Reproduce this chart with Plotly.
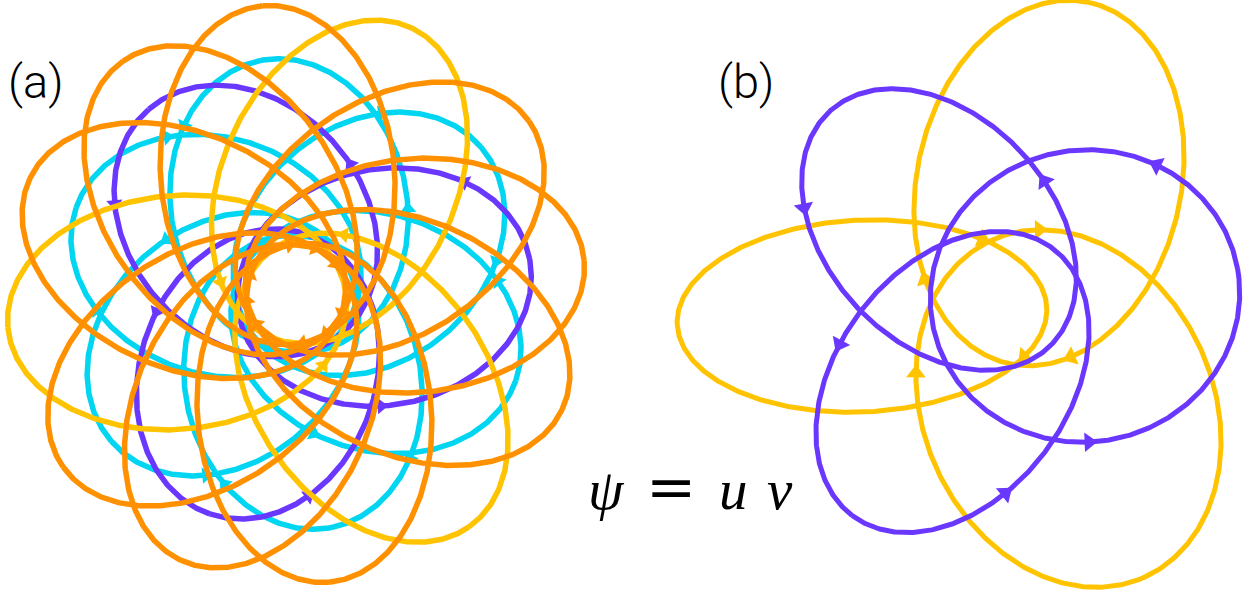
import numpy as np
import plotly.graph_objects as go

W, H = 1253, 594

# ---------------- panel (a): families of three loops, 120 deg apart ----------------
# every loop is an ellipse that encloses the common centre
A_COLOR = ["#FFC300", "#FF9100", "#FF9100", "#FF9100", "#6A37FF", "#00D5F2", "#00D5F2"]
A_AXIS = [65, 95, 125, 155, 11, 41, 101]        # direction of the far end of the first loop, deg
A_SEMI_MAJOR = [170, 170, 170, 170, 148, 148, 148]
A_SEMI_MINOR = [117, 117, 117, 117, 118, 118, 118]
A_SHIFT = [120, 120, 120, 120, 88, 88, 88]       # centre of ellipse, along the axis
A_SIDE = [8, 8, 8, 8, -10, -10, -10]             # centre of ellipse, across the axis
A_SENSE = [1, -1, -1, -1, 1, -1, 1]              # +1 counter-clockwise
A_ARROW_T = [[146], [185], [185], [185], [48, 260], [-55, 50], [48, 260]]
A_ORDER = [5, 6, 4, 0, 1, 2, 3]

# ---------------- panel (b): three yellow and three purple loops ----------------
B_COLOR = ["#FFC300"] * 3 + ["#6A37FF"] * 3
B_CX = [-123, 64, 83.5, -46, 100, -32.5]          # ellipse centre relative to the common centre
B_CY = [-17, 116, -109.5, 69.5, 3, -83]
B_SEMI_MAJOR = [185, 185, 185, 161, 155, 167]
B_SEMI_MINOR = [96, 132, 145, 113, 146, 116]
B_AXIS = [182.6, 77.2, 294.4, 132.9, 10, 233.1]
B_SENSE = [-1, -1, -1, 1, 1, 1]
B_ARROW_T = [[150, 228], [131, 207], [161, 239], [48, 257], [53, 262], [70, 283]]

CENTER_A = (296, 294)
CENTER_B = (985, 299)
WIDTH_A, WIDTH_B = 5.5, 5.0
HEAD_A, HEAD_B = 14, 17


def ellipse_point(t, cx, cy, a, b, axis):
    ux, uy = np.cos(np.radians(axis)), np.sin(np.radians(axis))
    x = cx + a * np.cos(t) * ux - b * np.sin(t) * uy
    y = cy + a * np.cos(t) * uy + b * np.sin(t) * ux
    return x, y


fig = go.Figure()


def draw_loop(cx, cy, a, b, axis, sense, arrow_t, color, width, head, xa, ya):
    t = np.linspace(0, 2 * np.pi, 721)
    x, y = ellipse_point(t, cx, cy, a, b, axis)
    fig.add_trace(go.Scatter(x=x, y=y, mode="lines", xaxis=xa, yaxis=ya,
                             line=dict(color=color, width=width), hoverinfo="skip"))
    ta = np.radians(np.array(arrow_t, dtype=float))
    x0, y0 = ellipse_point(ta, cx, cy, a, b, axis)
    x1, y1 = ellipse_point(ta + sense * 1e-3, cx, cy, a, b, axis)
    ang = np.degrees(np.arctan2(x1 - x0, y1 - y0))
    fig.add_trace(go.Scatter(x=x0, y=y0, mode="markers", xaxis=xa, yaxis=ya,
                             marker=dict(symbol="triangle-up", size=head, angle=ang,
                                         color=color, line=dict(width=0)),
                             hoverinfo="skip"))


for i in A_ORDER:
    for k in range(3):
        ax_deg = A_AXIS[i] + 120 * k
        ar = np.radians(ax_deg)
        cx = A_SHIFT[i] * np.cos(ar) - A_SIDE[i] * np.sin(ar)
        cy = A_SHIFT[i] * np.sin(ar) + A_SIDE[i] * np.cos(ar)
        draw_loop(cx, cy, A_SEMI_MAJOR[i], A_SEMI_MINOR[i], ax_deg, A_SENSE[i],
                  A_ARROW_T[i], A_COLOR[i], WIDTH_A, HEAD_A, "x", "y")

for i in range(len(B_COLOR)):
    draw_loop(B_CX[i], B_CY[i], B_SEMI_MAJOR[i], B_SEMI_MINOR[i], B_AXIS[i], B_SENSE[i],
              B_ARROW_T[i], B_COLOR[i], WIDTH_B, HEAD_B, "x2", "y2")

half = W / 2
axis_off = dict(visible=False, showgrid=False, zeroline=False, fixedrange=True)
fig.update_layout(
    width=W, height=H, margin=dict(l=0, r=0, t=0, b=0),
    paper_bgcolor="white", plot_bgcolor="white", showlegend=False,
    xaxis=dict(domain=[0, 0.5], range=[-CENTER_A[0], half - CENTER_A[0]], **axis_off),
    yaxis=dict(domain=[0, 1], range=[-(H - CENTER_A[1]), CENTER_A[1]], **axis_off),
    xaxis2=dict(domain=[0.5, 1], range=[half - CENTER_B[0], W - CENTER_B[0]],
                anchor="y2", **axis_off),
    yaxis2=dict(domain=[0, 1], range=[-(H - CENTER_B[1]), CENTER_B[1]],
                anchor="x2", **axis_off),
)

label_font = dict(family="Roboto, Open Sans, sans-serif", size=47, color="black", weight=300)
for text, x0 in [("(a)", 6), ("(b)", 716)]:
    fig.add_annotation(text=text, xref="paper", yref="paper", x=x0 / W, y=1 - 81 / H,
                       xanchor="left", yanchor="middle", showarrow=False, font=label_font)

# the relation  psi = u v, set symbol by symbol
math_it = dict(family="Liberation Serif, DejaVu Serif, serif", size=57, color="black")
math_up = dict(family="DejaVu Serif, Liberation Serif, serif", size=60, color="black")
for text, xc, yc, font in [("<i>ψ</i>", 606, 489, math_it), ("=", 671, 486, math_up),
                           ("<i>u</i>", 733, 489, math_it), ("<i>v</i>", 780, 489, math_it)]:
    fig.add_annotation(text=text, xref="paper", yref="paper", x=xc / W, y=1 - yc / H,
                       xanchor="center", yanchor="middle", showarrow=False, font=font)

fig.write_html("out.html")
